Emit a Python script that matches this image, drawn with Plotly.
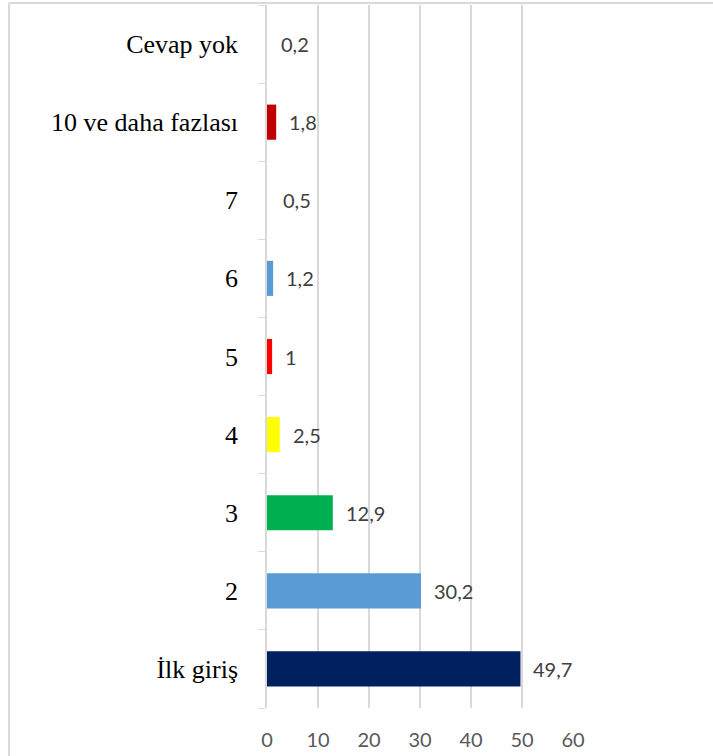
import plotly.graph_objects as go

# Categories listed bottom-to-top as they appear on the vertical axis
categories = ["İlk giriş", "2", "3", "4", "5", "6", "7", "10 ve daha fazlası", "Cevap yok"]
values = [49.7, 30.2, 12.9, 2.5, 1, 1.2, 0.5, 1.8, 0.2]
bar_colors = ["#002060", "#5B9BD5", "#00B050", "#FFFF00", "#FF0000",
              "#5B9BD5", "#FFFFFF", "#C00000", "#FFFFFF"]
x_ticks = [0, 10, 20, 30, 40, 50, 60]


def fmt(v):
    s = f"{v:g}"
    return s.replace(".", ",")


fig = go.Figure()
fig.add_trace(go.Bar(
    x=values,
    y=categories,
    orientation="h",
    marker=dict(color=bar_colors, line=dict(width=0)),
    width=0.45,
    hoverinfo="skip",
))

# value labels placed just right of each bar end (y given as category index)
for i, v in enumerate(values):
    fig.add_annotation(
        x=v, y=i, xref="x", yref="y",
        text=fmt(v), showarrow=False,
        xanchor="left", yanchor="middle", xshift=11,
        font=dict(family="Lato, Carlito, sans-serif", size=20, color="#404040"),
    )

# outer chart frame (left and top edges)
fig.add_shape(type="line", xref="paper", yref="paper",
              x0=-0.843, x1=-0.843, y0=-0.2, y1=1.003,
              line=dict(color="#d9d9d9", width=2))
fig.add_shape(type="line", xref="paper", yref="paper",
              x0=-0.843, x1=1.6, y0=1.003, y1=1.003,
              line=dict(color="#d9d9d9", width=2))

fig.update_layout(
    width=713, height=756,
    margin=dict(l=267, r=140, t=5, b=48),
    paper_bgcolor="white",
    plot_bgcolor="white",
    showlegend=False,
    xaxis=dict(
        range=[0, 60],
        tickvals=x_ticks,
        ticktext=[str(t) for t in x_ticks],
        showgrid=True, gridcolor="#d9d9d9", gridwidth=1.5,
        zeroline=False, showline=False,
        ticks="",
        ticklabelstandoff=18,
        tickfont=dict(family="Lato, Carlito, sans-serif", size=20, color="#595959"),
        fixedrange=True,
    ),
    yaxis=dict(
        categoryorder="array", categoryarray=categories,
        showgrid=False, zeroline=False,
        showline=True, linecolor="#d9d9d9", linewidth=1.5,
        ticks="outside", tickson="boundaries", ticklen=7, tickcolor="#d9d9d9",
        ticklabelstandoff=22,
        tickfont=dict(family="Liberation Serif, Times New Roman, serif", size=26, color="#000000"),
        fixedrange=True,
    ),
)

fig.write_html("out.html")
